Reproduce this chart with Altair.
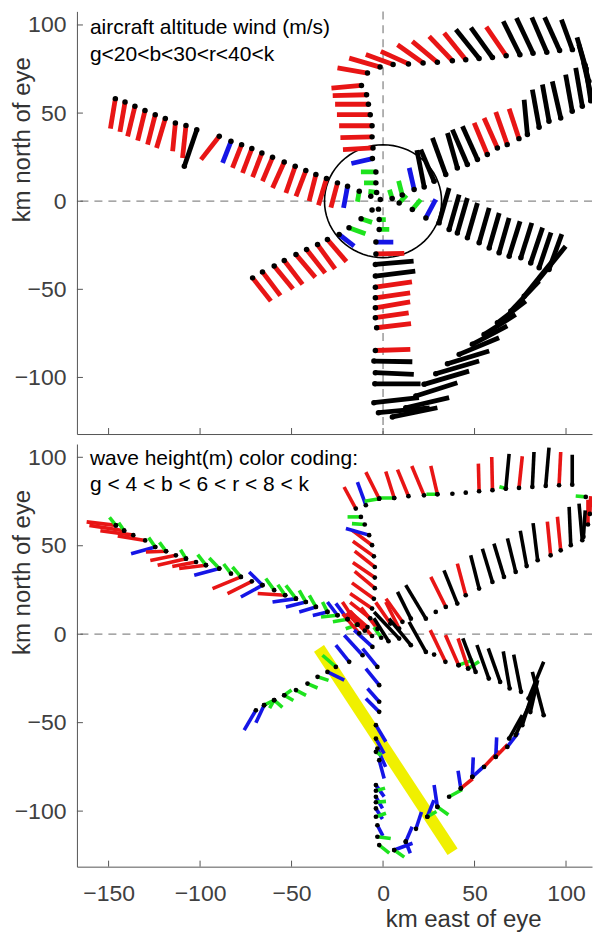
import altair as alt
import pandas as pd

# ---------------- data (km east / km north of eye) ----------------
# each barb: (x, y, dx, dy, colour class)   g<b<r<k
TOP_NW = [
    (-146.3, 58.2, -2.7, -17.0, 'r'), (-141.0, 56.3, -2.8, -17.0, 'r'),
    (-135.6, 53.9, -4.0, -17.1, 'r'), (-130.1, 51.4, -4.0, -17.0, 'r'),
    (-124.5, 49.1, -4.2, -17.0, 'r'), (-119.0, 46.9, -4.8, -16.7, 'r'),
    (-113.5, 44.4, -1.5, -16.1, 'r'), (-107.7, 42.9, -1.9, -18.4, 'r'),
    (-101.8, 40.6, -6.8, -20.8, 'k'), (-108.6, 19.8, 0.0, 0.0, 'k'),
    (-89.5, 36.8, -10.0, -13.2, 'r'), (-83.1, 34.0, -4.6, -12.3, 'b'),
    (-77.3, 32.1, -5.0, -13.2, 'r'), (-71.7, 29.9, -5.1, -13.9, 'r'),
    (-66.2, 27.4, -5.1, -13.8, 'r'), (-60.4, 24.9, -5.5, -13.6, 'r'),
    (-54.0, 22.3, -6.4, -14.8, 'r'), (-48.0, 19.8, -5.1, -15.1, 'r'),
    (-42.2, 17.4, -5.4, -14.6, 'r'), (-36.7, 15.1, -3.7, -15.1, 'r'),
    (-30.9, 12.9, -4.4, -15.2, 'r'), (-24.9, 10.4, -3.6, -14.0, 'r'),
    (-19.4, 8.5, -2.2, -12.3, 'b'), (-13.0, 5.7, -1.0, -6.0, 'g'),
    (-6.7, 2.8, 0.0, 0.0, 'k'),
]
TOP_N = [
    (-3.9, 16.6, -8.2, 0.0, 'g'), (-3.9, 10.4, -6.5, 0.0, 'g'),
    (-3.5, 5.0, -4.5, 0.5, 'g'), (-1.5, 1.0, 0.0, 0.0, 'k'),
    (-5.8, 24.2, -11.5, -2.8, 'b'), (-5.5, 30.2, -16.4, -0.9, 'r'),
    (-6.0, 36.5, -17.3, -0.4, 'r'), (-6.0, 42.8, -18.0, 0.0, 'r'),
    (-7.0, 49.1, -18.2, 0.0, 'r'), (-8.0, 55.0, -18.2, 0.0, 'r'),
    (-9.0, 60.4, -18.5, -0.5, 'r'), (-11.8, 65.7, -16.4, -1.5, 'r'),
    (-8.5, 72.7, -16.4, 2.9, 'r'), (-1.6, 76.1, -16.9, 5.1, 'r'),
    (5.5, 77.5, -14.9, 5.7, 'r'), (13.9, 77.9, -15.1, 7.1, 'r'),
    (21.9, 78.4, -14.0, 10.4, 'r'), (29.7, 78.8, -13.7, 11.9, 'r'),
    (37.9, 79.7, -12.7, 13.8, 'r'), (45.2, 80.3, -11.8, 15.1, 'r'),
    (52.5, 81.0, -12.7, 16.4, 'k'), (59.8, 81.5, -11.8, 17.0, 'k'),
    (67.3, 82.5, -10.9, 16.4, 'r'), (74.8, 83.1, -9.1, 19.0, 'k'),
    (82.0, 84.0, -9.1, 20.0, 'k'), (89.5, 84.5, -8.2, 19.8, 'k'),
    (96.5, 85.5, -8.2, 18.9, 'k'), (103.5, 86.0, -6.0, 17.0, 'k'),
    (111.0, 75.0, -5.0, 18.0, 'k'), (112.5, 68.0, -5.5, 21.0, 'k'),
    (113.5, 61.0, -4.0, 18.0, 'k'),
]
TOP_NE = [
    (5.0, 1.5, -1.5, 5.0, 'g'), (10.5, 3.5, -2.0, 8.0, 'g'),
    (17.0, 6.6, -2.7, 12.3, 'b'), (22.5, 8.0, -4.0, 21.0, 'k'),
    (27.9, 11.3, -7.3, 18.0, 'k'), (34.3, 15.1, -7.3, 20.8, 'k'),
    (40.6, 18.9, -5.4, 19.8, 'k'), (46.1, 20.8, -8.2, 19.8, 'k'),
    (51.6, 23.6, -8.2, 18.9, 'k'), (57.0, 26.5, -7.2, 17.9, 'r'),
    (62.5, 30.2, -7.3, 17.0, 'r'), (67.9, 32.1, -6.3, 18.5, 'r'),
    (74.3, 35.5, -5.4, 17.0, 'r'), (78.9, 37.8, -1.8, 19.8, 'k'),
    (85.3, 42.0, -3.7, 21.3, 'k'), (90.7, 45.4, -3.6, 20.8, 'k'),
    (97.1, 47.2, -4.6, 20.8, 'k'), (103.4, 51.0, -3.6, 20.8, 'k'),
    (108.9, 53.9, -3.6, 21.7, 'k'), (113.5, 57.0, -3.0, 21.0, 'k'),
]
TOP_SE = [
    (8.8, -1.0, 4.0, 4.5, 'g'), (16.0, -4.7, 4.6, 5.7, 'g'),
    (23.4, -9.5, 5.4, 10.5, 'b'), (30.6, -12.3, 5.5, 19.8, 'k'),
    (36.1, -16.1, 5.5, 19.8, 'k'), (40.6, -18.0, 5.5, 19.8, 'k'),
    (46.1, -20.8, 5.5, 19.8, 'k'), (52.5, -23.6, 5.5, 19.8, 'k'),
    (58.0, -26.5, 5.5, 19.8, 'k'), (63.4, -29.3, 5.5, 19.8, 'k'),
    (68.9, -31.2, 6.0, 19.8, 'k'), (75.3, -32.1, 6.0, 19.8, 'k'),
    (80.7, -35.0, 6.5, 20.0, 'k'), (85.3, -37.8, 6.5, 20.0, 'k'),
    (90.7, -38.7, 7.0, 20.0, 'k'),
]
TOP_SW = [
    (-71.3, -43.5, 10.0, -13.2, 'r'), (-65.9, -40.1, 9.8, -13.5, 'r'),
    (-59.5, -36.8, 10.3, -13.0, 'r'), (-54.0, -33.6, 10.0, -13.6, 'r'),
    (-47.6, -30.2, 10.6, -13.0, 'r'), (-41.8, -27.4, 10.2, -13.4, 'r'),
    (-35.8, -24.6, 9.6, -13.8, 'r'), (-30.4, -21.7, 10.4, -12.6, 'r'),
    (-24.0, -18.9, 8.2, -6.6, 'b'), (-18.6, -15.0, 9.0, -3.5, 'g'),
    (-12.0, -10.0, 6.0, -2.0, 'g'), (-6.0, -5.0, 0.0, 0.0, 'k'),
]
TOP_S = [
    (-2.5, -4.5, 0.0, 0.0, 'k'), (-2.1, -10.4, 3.6, 0.0, 'g'),
    (-2.1, -16.0, 5.5, 0.0, 'g'), (-3.9, -23.2, 9.5, 0.0, 'b'),
    (-3.9, -29.9, 15.5, 0.3, 'r'), (-4.2, -35.9, 20.9, 1.9, 'k'),
    (-4.2, -42.5, 21.8, 2.8, 'k'), (-4.2, -48.8, 20.0, 3.0, 'r'),
    (-4.2, -54.8, 19.0, 2.8, 'r'), (-4.2, -60.5, 19.0, 3.4, 'r'),
    (-4.2, -66.1, 18.2, 2.8, 'r'), (-3.5, -71.8, 18.8, 2.3, 'r'),
    (-4.2, -84.7, 19.1, 0.6, 'r'), (-5.0, -90.7, 21.0, -0.4, 'k'),
    (-4.2, -97.3, 21.0, -1.0, 'k'), (-4.5, -103.6, 25.0, 0.0, 'k'),
    (-5.0, -114.3, 24.6, 2.8, 'k'), (-2.5, -120.0, 28.0, 2.8, 'k'),
]
TOP_LOOP = [
    (5.1, -122.4, 24.6, 5.2, 'k'), (12.4, -117.2, 23.7, 5.8, 'k'),
    (17.9, -110.5, 22.7, 7.5, 'k'), (22.4, -103.9, 24.6, 7.5, 'k'),
    (28.8, -97.9, 23.7, 7.2, 'k'), (35.2, -92.2, 22.8, 7.2, 'k'),
    (41.6, -86.9, 21.8, 9.4, 'k'), (48.8, -81.2, 19.1, 10.4, 'k'),
    (55.2, -75.6, 17.3, 11.3, 'k'), (62.5, -69.0, 15.5, 12.3, 'k'),
    (69.8, -62.4, 15.5, 17.0, 'k'), (77.1, -53.9, 15.4, 19.9, 'k'),
    (84.3, -45.4, 15.5, 19.8, 'k'),
]

BOT_W = [
    (-146.0, 61.5, -16.0, 2.0, 'r'), (-146.0, 61.5, -3.5, 4.5, 'g'),
    (-141.5, 58.5, -19.0, 3.0, 'r'), (-141.5, 58.5, -3.0, 4.5, 'g'),
    (-136.5, 56.0, -18.0, 2.5, 'r'), (-130.0, 53.0, -15.0, 2.5, 'r'),
    (-124.5, 49.3, -13.2, -3.8, 'b'), (-124.5, 49.3, -3.6, 5.3, 'g'),
    (-118.6, 46.9, -11.0, -0.4, 'r'), (-118.6, 46.9, -3.6, 5.0, 'g'),
    (-113.2, 44.6, -14.0, -3.0, 'r'), (-107.7, 42.7, -15.5, -3.7, 'r'),
    (-107.7, 42.7, -3.0, 5.0, 'g'), (-102.2, 40.8, -13.0, -2.5, 'r'),
    (-96.8, 39.0, -14.6, -1.9, 'r'), (-96.8, 39.0, -4.5, 6.0, 'g'),
    (-89.5, 37.1, -13.7, -3.8, 'b'), (-89.5, 37.1, -5.5, 6.0, 'g'),
    (-83.1, 34.2, -4.0, 5.5, 'g'), (-77.7, 32.4, -15.5, -6.6, 'r'),
    (-77.7, 32.4, -4.6, 5.6, 'g'), (-71.7, 29.9, -13.3, -7.0, 'r'),
    (-65.9, 27.7, -11.8, -6.7, 'b'), (-65.9, 27.7, -7.3, 7.5, 'b'),
    (-59.5, 24.9, -4.6, 6.6, 'g'), (-53.5, 22.0, -15.0, 1.0, 'r'),
    (-53.5, 22.0, -4.0, 6.0, 'g'), (-47.6, 20.1, -12.8, -1.9, 'b'),
    (-47.6, 20.1, -5.5, 7.5, 'g'), (-42.2, 18.2, -10.9, -2.8, 'b'),
    (-42.2, 18.2, -3.6, 6.6, 'g'), (-36.7, 15.4, -9.1, -2.8, 'b'),
    (-36.7, 15.4, -3.6, 6.6, 'g'), (-30.4, 12.6, -8.0, -2.0, 'b'),
    (-30.4, 12.6, -2.7, 5.6, 'g'), (-24.9, 10.7, -5.5, 7.5, 'b'),
    (-24.9, 10.7, -9.0, -1.0, 'g'), (-19.4, 8.5, -6.4, 8.9, 'b'),
    (-19.4, 8.5, -8.0, -1.5, 'g'), (-14.0, 5.4, -8.2, 12.8, 'r'),
    (-14.0, 5.4, -6.4, -2.3, 'g'),
]
BOT_N = [
    (-8.5, 4.0, -10.0, 9.0, 'r'), (-7.0, 9.0, -11.0, 9.0, 'r'),
    (-6.0, 14.5, -12.0, 8.5, 'r'), (-5.0, 20.0, -12.0, 9.0, 'r'),
    (-4.5, 26.0, -11.0, 9.5, 'r'), (-4.5, 32.0, -12.0, 8.5, 'r'),
    (-4.5, 38.0, -11.0, 9.0, 'r'), (-5.0, 44.0, -11.5, 8.5, 'r'),
    (-6.0, 50.3, -11.0, 8.5, 'r'), (-7.6, 56.0, -12.7, 3.8, 'b'),
    (-10.0, 62.0, -7.0, 0.5, 'g'), (-12.1, 66.3, -7.3, 0.0, 'g'),
    (-14.9, 71.0, -6.4, 12.2, 'r'), (-9.4, 72.9, -4.6, 13.1, 'b'),
    (-2.1, 76.6, -7.3, 15.0, 'r'), (-2.1, 76.6, -8.0, -1.5, 'g'),
    (6.1, 77.0, -4.6, 15.0, 'r'), (6.1, 77.0, -8.0, 0.0, 'g'),
    (13.9, 78.0, -6.0, 15.0, 'r'), (22.4, 78.5, -6.7, 16.6, 'r'),
    (29.7, 79.1, -3.6, 16.0, 'r'), (29.7, 79.1, -6.0, 0.0, 'g'),
    (37.9, 79.4, 0.0, 0.0, 'k'), (45.2, 80.0, 0.0, 0.0, 'k'),
    (52.5, 80.8, -0.4, 15.6, 'r'), (59.8, 81.4, -0.4, 18.8, 'r'),
    (67.1, 82.3, 1.8, 19.6, 'k'), (67.1, 82.3, -3.5, 1.0, 'g'),
    (74.3, 82.7, 1.8, 17.9, 'r'), (81.6, 83.2, 0.9, 19.8, 'k'),
    (88.9, 83.8, 1.8, 21.7, 'k'), (96.2, 84.2, 0.9, 18.8, 'r'),
    (103.4, 84.5, 0.0, 17.0, 'k'), (110.8, 77.6, -5.5, 0.5, 'g'),
    (112.0, 62.0, 0.0, 14.0, 'r'), (113.0, 68.0, 0.5, 10.0, 'r'),
    (109.5, 55.0, 1.0, 15.0, 'k'),
]
BOT_CENTER = [
    (-10.0, 2.0, -10.0, 10.0, 'r'), (-3.0, 3.0, -9.0, 12.0, 'r'),
    (-6.0, -1.0, -12.0, 14.0, 'r'), (-13.0, 0.5, -9.0, 11.0, 'r'),
    (8.8, 3.2, -7.3, 15.0, 'r'), (4.0, 6.0, -8.0, 12.0, 'r'),
    (10.6, 7.0, -9.0, 13.0, 'r'), (8.8, -2.5, -13.7, 15.1, 'k'),
    (3.0, -4.0, -8.0, 13.0, 'k'), (15.2, -6.2, -11.9, 15.0, 'k'),
    (23.4, -10.0, -9.2, 17.0, 'k'), (-1.0, -2.0, -4.0, 6.0, 'g'),
]
BOT_NE = [
    (15.2, 8.8, -7.3, 15.1, 'k'), (23.4, 8.8, -11.0, 18.9, 'k'),
    (28.8, 12.6, 0.0, 0.0, 'k'), (34.3, 15.4, -8.2, 17.0, 'r'),
    (40.6, 17.3, -7.3, 18.8, 'k'), (45.2, 22.0, -4.6, 17.9, 'r'),
    (52.5, 25.8, -4.6, 18.8, 'k'), (59.8, 29.5, -5.5, 18.8, 'k'),
    (66.1, 32.4, -5.5, 18.8, 'k'), (72.5, 35.2, -4.5, 19.0, 'k'),
    (78.5, 38.5, -3.5, 20.0, 'k'), (84.5, 41.8, -2.5, 21.0, 'k'),
    (91.6, 44.6, -1.8, 19.0, 'r'), (97.1, 47.4, -1.8, 19.0, 'r'),
    (102.6, 50.3, -0.9, 21.7, 'k'), (108.9, 53.1, -1.8, 20.7, 'k'),
]
BOT_SE = [
    (27.9, -11.5, 0.0, 0.0, 'k'), (34.1, -15.6, -8.3, 17.9, 'r'),
    (41.3, -17.5, -7.2, 17.0, 'r'), (41.3, -17.5, 8.0, 3.0, 'g'),
    (46.5, -19.4, -5.5, 17.0, 'r'), (46.5, -19.4, 6.0, 4.0, 'g'),
    (50.6, -21.3, -7.0, 19.0, 'k'), (57.8, -25.1, -6.5, 19.0, 'k'),
    (64.0, -27.0, -6.5, 19.0, 'k'), (69.2, -30.7, -3.5, 21.0, 'k'),
    (75.4, -32.6, -4.0, 21.0, 'k'), (79.5, -36.4, 8.3, 20.8, 'k'),
    (87.8, -45.8, -6.2, 24.5, 'k'),
]
BOT_S = [
    (-5.8, -7.2, -10.0, 9.5, 'b'), (-3.1, -18.5, -8.1, 10.4, 'b'),
    (-2.1, -28.8, -7.3, 9.4, 'b'), (-2.1, -38.2, -6.4, 7.5, 'b'),
    (-2.1, -43.9, -7.3, 7.5, 'b'), (-3.9, -51.4, 5.4, -9.4, 'b'),
    (-3.9, -59.0, 4.5, -8.5, 'b'), (-3.1, -64.6, 4.5, -10.4, 'b'),
    (-3.9, -66.5, 3.0, -2.0, 'g'), (-2.1, -71.2, 2.7, -10.4, 'b'),
    (-3.9, -85.3, 4.5, -6.5, 'b'), (-3.9, -88.5, 5.0, 1.5, 'g'),
    (-3.9, -91.9, 3.6, -6.5, 'b'), (-3.9, -95.0, 5.5, 0.5, 'g'),
    (-3.9, -98.5, 3.6, -6.0, 'b'), (-3.9, -103.2, 5.5, 2.0, 'g'),
    (-3.1, -108.0, 3.0, -6.0, 'b'), (-3.1, -114.5, 7.3, -1.0, 'g'),
    (-2.1, -119.2, 5.5, -4.5, 'g'),
]
BOT_SW = [
    (-69.5, -43.0, -6.4, -11.2, 'b'), (-65.0, -40.1, -4.5, -10.0, 'b'),
    (-65.0, -40.1, 5.0, 2.5, 'g'), (-59.5, -37.3, 4.5, -4.0, 'g'),
    (-59.5, -37.3, -2.5, -4.5, 'g'), (-54.0, -34.5, 5.0, -3.0, 'g'),
    (-54.0, -34.5, 4.0, 3.0, 'g'), (-47.6, -31.6, 5.5, -3.0, 'g'),
    (-41.3, -27.9, 5.5, -2.5, 'g'), (-35.8, -24.1, 6.0, -2.0, 'g'),
    (-30.4, -21.3, 9.2, -4.7, 'b'), (-25.8, -18.5, -7.3, 6.6, 'g'),
    (-18.5, -15.6, -7.3, 9.4, 'b'), (-11.2, -11.9, -10.0, 11.3, 'b'),
]
BOT_LOOP = [
    (6.1, -122.0, 10.0, 3.8, 'b'), (6.1, -122.0, 5.5, -4.0, 'g'),
    (12.4, -117.3, 2.5, -6.5, 'b'), (12.4, -117.3, 3.5, 8.5, 'b'),
    (18.0, -110.0, 3.0, 9.5, 'b'), (24.2, -103.2, 3.6, 9.4, 'b'),
    (24.2, -103.2, 5.0, 3.0, 'g'), (29.7, -97.6, -1.8, 12.3, 'b'),
    (29.7, -97.6, 6.0, -4.5, 'g'), (36.1, -91.9, 7.0, 4.0, 'g'),
    (42.5, -87.2, -1.5, 10.0, 'b'), (42.5, -87.2, 6.5, 5.5, 'r'),
    (48.8, -80.6, 6.5, 6.0, 'b'), (48.8, -80.6, 0.5, 11.0, 'b'),
    (55.2, -75.0, 8.2, 9.0, 'r'), (61.6, -69.3, 0.5, 11.0, 'b'),
    (61.6, -69.3, 6.5, 7.0, 'r'), (67.9, -63.7, 6.0, 8.0, 'b'),
    (68.9, -59.0, 7.2, 13.2, 'k'), (72.5, -57.0, 8.2, 18.8, 'k'),
    (76.1, -51.4, 6.4, 20.7, 'k'), (80.5, -44.0, 4.0, 18.0, 'k'),
]
YELLOW_X = [-35.0, 38.0]
YELLOW_Y = [-8.0, -123.0]
EYE_RADIUS_KM = 32

X_DOMAIN = [-167.3, 114.2]
Y_DOMAIN_TOP = [-132.1, 107.7]
Y_DOMAIN_BOT = [-131.4, 107.5]
X_TICKS = [-150, -100, -50, 0, 50, 100]
Y_TICKS = [-100, -50, 0, 50, 100]

TOP_TEXT = ["aircraft altitude wind (m/s)", "g<20<b<30<r<40<k"]
BOT_TEXT = ["wave height(m) color coding:", "g < 4 < b < 6 < r < 8 < k"]

CLASSES = ['g', 'b', 'r', 'k']
CLASS_COLORS = ['#1ee31e', '#1515e6', '#e81515', '#000000']

# ---------------- chart ----------------
W, H = 515.5, 423
FONT = "Liberation Sans"


def frame(rows):
    return pd.DataFrame(rows, columns=['x', 'y', 'dx', 'dy', 'c'])


def panel(df, ydom, texts, bottom, barb_w, dot_size):
    xs = alt.Scale(domain=X_DOMAIN, nice=False, zero=False)
    ys = alt.Scale(domain=ydom, nice=False, zero=False)
    if bottom:
        xaxis = alt.Axis(values=X_TICKS, ticks=False, tickSize=0, grid=False,
                         labelPadding=16, title='km east of eye',
                         titleX=386.5, titleY=53, titleBaseline='middle',
                         titleAlign='center')
    else:
        xaxis = alt.Axis(values=X_TICKS, ticks=False, tickSize=0, grid=False,
                         labels=False, title='')
    yaxis = alt.Axis(values=Y_TICKS, ticks=False, tickSize=0, grid=False,
                     labelPadding=11, title='km north of eye',
                     titleX=-54, titleY=128, titleAngle=270,
                     titleBaseline='middle', titleAlign='center')

    def X(field='x'):
        return alt.X(f'{field}:Q', scale=xs, axis=xaxis, title=xaxis.title)

    def Y(field='y'):
        return alt.Y(f'{field}:Q', scale=ys, axis=yaxis, title=yaxis.title)

    base = alt.Chart(df)
    barbs = base.transform_calculate(
        xe='datum.x + datum.dx', ye='datum.y + datum.dy'
    ).mark_rule(strokeWidth=barb_w, clip=True, strokeCap='butt').encode(
        x=X(), y=Y(), x2='xe:Q', y2='ye:Q',
        color=alt.Color('c:N', scale=alt.Scale(domain=CLASSES, range=CLASS_COLORS),
                        legend=None),
    )
    dots = base.mark_circle(size=dot_size, color='black', opacity=1,
                            clip=True).encode(x=X(), y=Y())

    zero = pd.DataFrame({'x': [0], 'y': [0]})
    hline = alt.Chart(zero).mark_rule(color='#8a8a8a', strokeWidth=1.3,
                                      strokeDash=[8, 6]).encode(y=Y())
    layers = [hline]
    if not bottom:
        vline = alt.Chart(zero).mark_rule(color='#8a8a8a', strokeWidth=1.3,
                                          strokeDash=[8, 6]).encode(x=X())
        layers.append(vline)
        circle = alt.Chart(alt.sequence(0, 365, 5, as_='a')).transform_calculate(
            x=f'{EYE_RADIUS_KM}*cos(datum.a*PI/180)',
            y=f'{EYE_RADIUS_KM}*sin(datum.a*PI/180)'
        ).mark_line(color='black', strokeWidth=1.6, clip=True).encode(
            x=X(), y=Y(), order='a:Q')
        layers.append(circle)
    else:
        ydf = pd.DataFrame({'x': YELLOW_X, 'y': YELLOW_Y, 'o': [0, 1]})
        yel = alt.Chart(ydf).mark_line(color='#f0f000', strokeWidth=12,
                                       strokeCap='butt', clip=True).encode(
            x=X(), y=Y(), order='o:Q')
        layers.append(yel)

    layers += [barbs, dots]

    xt = pd.DataFrame({'x': X_TICKS})
    yt = pd.DataFrame({'y': Y_TICKS})
    xticks = alt.Chart(xt).mark_rule(color='#555555', strokeWidth=1).encode(
        x=X(), y=alt.value(H), y2=alt.value(H - 6))
    yticks = alt.Chart(yt).mark_rule(color='#555555', strokeWidth=1).encode(
        y=Y(), x=alt.value(0), x2=alt.value(6))
    layers += [xticks, yticks]

    ty = [23, 50] if not bottom else [21, 47]
    for t, yy in zip(texts, ty):
        layers.append(alt.Chart(pd.DataFrame({'t': [t]})).mark_text(
            align='left', baseline='alphabetic', font=FONT, fontSize=21,
            color='black').encode(x=alt.value(13), y=alt.value(yy), text='t:N'))

    return alt.layer(*layers).properties(width=W, height=H)


top_df = frame(TOP_NW + TOP_N + TOP_NE + TOP_SE + TOP_SW + TOP_S + TOP_LOOP)
bot_df = frame(BOT_W + BOT_N + BOT_CENTER + BOT_NE + BOT_SE + BOT_S + BOT_SW + BOT_LOOP)

top = panel(top_df, Y_DOMAIN_TOP, TOP_TEXT, False, 4.8, 30)
bot = panel(bot_df, Y_DOMAIN_BOT, BOT_TEXT, True, 3.6, 22)

chart = alt.vconcat(top, bot, spacing=9).properties(
    padding={'left': 11, 'top': 10, 'right': 0, 'bottom': 0}
).configure_view(strokeWidth=0).configure_axis(
    domainColor='#555555', domainWidth=1, labelColor='#404040',
    labelFont=FONT, labelFontSize=23, titleFont=FONT, titleFontSize=24,
    titleColor='#333333', titleFontWeight='normal'
)

chart.save("out.html", embed_options={"renderer": "svg", "actions": False})
